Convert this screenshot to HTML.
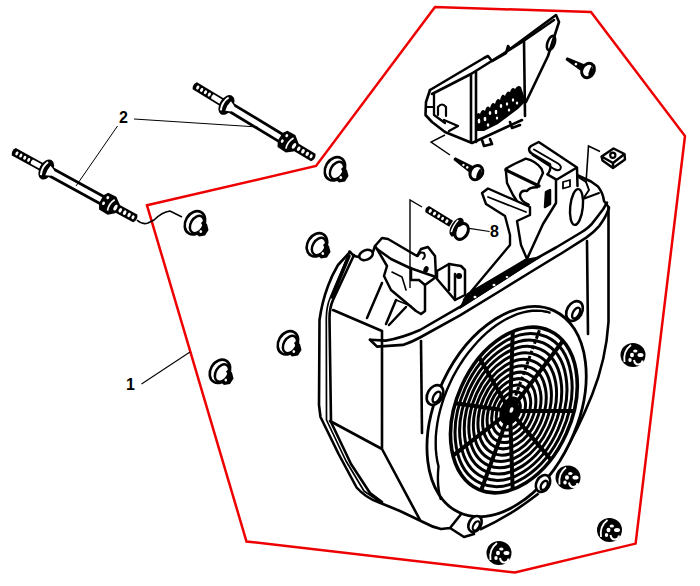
<!DOCTYPE html>
<html><head><meta charset="utf-8">
<style>
html,body{margin:0;padding:0;background:#fff;}
body{width:700px;height:586px;overflow:hidden;}
svg{display:block;}
.lbl{font-family:"Liberation Sans",sans-serif;font-size:16px;font-weight:bold;fill:#000;}
</style></head><body>
<svg width="700" height="586" viewBox="0 0 700 586">
<defs>
<g id="stud">
  <!-- local axis along +x, length ~141 -->
  <path d="M1.5,-4.2 L33,-4.2 L33,4.2 L1.5,4.2 Q-1.5,0 1.5,-4.2Z" fill="#000"/>
  <ellipse cx="5" cy="0" rx="1.4" ry="2.1" fill="#fff"/>
  <ellipse cx="9.5" cy="0" rx="1.4" ry="2.1" fill="#fff"/>
  <ellipse cx="14" cy="0" rx="1.4" ry="2.1" fill="#fff"/>
  <ellipse cx="18.5" cy="0" rx="1.4" ry="2.1" fill="#fff"/>
  <path d="M22,-2.4 L32,-2.4 L32,2.4 L22,2.4 Q20.5,0 22,-2.4Z" fill="#fff"/>
  <path d="M42,-4 L106,-4 M42,4 L106,4" stroke="#000" stroke-width="2.8"/>
  <ellipse cx="38.5" cy="0" rx="6.8" ry="10.8" fill="#000"/>
  <path d="M36.5,-7.5 Q33,0 36.5,7.5" stroke="#fff" stroke-width="2" fill="none"/>
  <path d="M40.5,-5.5 Q39,0 40.5,5.5 L46,3 L46,-3Z" fill="#fff"/>
<path d="M104,-9.5 L113,-10 L120,-4.5 L120,5 L114,10 L104,9.5 L101,4 L101,-5Z" fill="#000"/>
  <ellipse cx="106" cy="-5" rx="1.4" ry="1.6" fill="#fff"/>
  <ellipse cx="105" cy="2" rx="1.4" ry="1.8" fill="#fff"/>
  <path d="M113,-6.5 Q109.5,0 112,6.5" stroke="#fff" stroke-width="1.7" fill="none"/>
  <path d="M119,-4.4 L140,-4.4 Q143.5,0 140,4.4 L119,4.4Z" fill="#000"/>
  <ellipse cx="117.5" cy="0" rx="1.6" ry="3.2" fill="#fff"/>
  <ellipse cx="123" cy="0" rx="1.6" ry="2.4" fill="#fff"/>
  <ellipse cx="128" cy="0" rx="1.6" ry="2.4" fill="#fff"/>
  <ellipse cx="133" cy="0" rx="1.5" ry="2.3" fill="#fff"/>
  <ellipse cx="137.5" cy="0" rx="1.4" ry="2" fill="#fff"/>
</g>
<g id="nutA">
  <!-- flange nut, centred 0,0 -->
  <ellipse cx="-1.5" cy="-0.5" rx="9.5" ry="12.3" transform="rotate(30)" fill="#fff" stroke="#000" stroke-width="2.6"/>
  <path d="M4,-5 L11,0 L12.5,6 L9,11.5 L3,12.5 L-1,9Z" fill="#000"/>
  <ellipse cx="1" cy="0.5" rx="6.3" ry="9.3" transform="rotate(30 1 0.5)" fill="#fff" stroke="#000" stroke-width="2.5"/>
  <ellipse cx="1.8" cy="1.2" rx="3.8" ry="5.5" transform="rotate(30 1.8 1.2)" fill="#fff"/>
  <path d="M5,-1 Q8,3 6,8 L9,9 Q11,3 7,-3Z" fill="#000"/>
  <ellipse cx="4.8" cy="7.5" rx="1.3" ry="1.5" fill="#fff"/>
</g>
<g id="nutB">
  <ellipse cx="0" cy="0" rx="12.5" ry="12" fill="#000"/>
  <path d="M-8.5,7 Q-10,-4 -2,-10" stroke="#fff" stroke-width="1.8" fill="none"/>
  <ellipse cx="2.3" cy="-4" rx="2.2" ry="1.6" fill="#fff"/>
  <ellipse cx="-1" cy="0" rx="2" ry="2.2" fill="#fff"/>
  <ellipse cx="7.5" cy="0" rx="3" ry="2" fill="#fff"/>
  <ellipse cx="-3" cy="5" rx="1.7" ry="1.9" fill="#fff"/>
  <path d="M1,5 Q2,10 6,9.5 Q9.5,8.5 9.5,5.5" stroke="#fff" stroke-width="2" fill="none"/>
</g>
</defs>

<!-- red boundary -->
<path d="M147,205.3 L316,166 L435,7 L591,12 L685,136 L635.6,543.6 L515,572.5 L246.5,541.5 Z" fill="none" stroke="#ee0000" stroke-width="2.5" stroke-linejoin="miter"/>

<!-- studs -->
<use href="#stud" transform="translate(12.5,151) rotate(28.8)"/>
<use href="#stud" transform="translate(193.5,85) rotate(31.2)"/>

<!-- label 2 -->
<text class="lbl" x="119" y="122.8">2</text>
<path d="M117.5,126 L76,186 M134,119 L257.5,127" stroke="#000" stroke-width="1" fill="none"/>
<!-- leader from lower stud end -->
<path d="M137,220 Q142,225 148,223 L154,220 Q162,212 170,211 L182,217" stroke="#000" stroke-width="1.6" fill="none"/>

<!-- label 1 -->
<text class="lbl" x="126" y="389.9">1</text>
<path d="M141.5,384 L190,352" stroke="#000" stroke-width="1.1" fill="none"/>


<!-- ===== top bracket ===== -->
<g fill="none" stroke="#000" stroke-width="2.6" stroke-linejoin="round" stroke-linecap="round">
  <path d="M430,90 L484,58 L488,56 L492,61 L506,53 L508,46 L510,49 L556,15 L559,22 L548,56 L526,102"/>
  <path d="M432,94 L471,74 L522,42 L554,20"/>
  <path d="M471,74 L471,142 M476,72 L476,142"/>
  <path d="M524,41 L525,116"/>
  <path d="M430,90 L426,102 L425.5,115 L432,122 L445,132 L472,143 L522,120"/>
  <ellipse cx="551" cy="43" rx="3.5" ry="7.5" transform="rotate(20 551 43)"/>
  <path d="M434,94 L434,115 L445,123" stroke-width="2.3"/><path d="M438,115 L438,107 Q442,102 446,107 L446,116" stroke-width="2.2"/><path d="M427,107 L434,107" stroke-width="2"/><path d="M444,120 L458,126 L449,131" stroke-width="2.3"/>
  <path d="M482,140 L484,146 L492,144 L490,139 M510,122 L512,128 L520,125"/>
</g>
<g fill="#000">
  <path d="M476,116 Q478,111 480,114 Q482,108 485,111 Q487,104 490,108 Q492,101 495,104 Q497,97 500,100 Q502,92 505,96 Q507,90 510,92 Q512,86 515,89 Q518,84 521,87 L524,96 L525,102 L518,109 L498,124 L484,131 L476,131Z"/>
</g>
<g fill="#fff">
  <ellipse cx="479" cy="121" rx="1.3" ry="2.6"/><ellipse cx="485" cy="119" rx="1.4" ry="2.2"/>
  <ellipse cx="490" cy="113" rx="1.3" ry="2"/><ellipse cx="496" cy="112" rx="1.3" ry="2.2"/>
  <ellipse cx="501" cy="106" rx="1.3" ry="2"/><ellipse cx="507" cy="104" rx="1.2" ry="1.8"/>
  <ellipse cx="513" cy="100" rx="1.2" ry="1.8"/><ellipse cx="517" cy="103" rx="1.2" ry="1.6"/>
  <ellipse cx="488" cy="125" rx="1.3" ry="1.8"/><ellipse cx="497" cy="118" rx="1.2" ry="1.6"/>
  <ellipse cx="509" cy="110" rx="1.2" ry="1.6"/>
</g>
<!-- bracket leader + screw -->
<path d="M445,135 L431,142 L450,155" fill="none" stroke="#000" stroke-width="1.4"/>
<g transform="translate(454.4,158.7) rotate(32.3)">
  <path d="M0,-1.6 Q-1,0 0,1.6 L20,3.8 L20,-3.8Z" fill="#000"/>
  <circle cx="11" cy="0.5" r="1.2" fill="#fff"/><circle cx="15.5" cy="0.5" r="1.3" fill="#fff"/>
  <ellipse cx="26" cy="0" rx="6" ry="7.5" fill="#fff" stroke="#000" stroke-width="3"/>
  <path d="M27,-6 Q33,-2 30,6 Q26,3 27,-6Z" fill="#000"/>
</g>
<!-- top right screw -->
<g transform="translate(566.4,58.7) rotate(28.6)">
  <path d="M0,-1.6 Q-1,0 0,1.6 L19,3.8 L19,-3.8Z" fill="#000"/>
  <circle cx="11" cy="0.3" r="1.3" fill="#fff"/>
  <ellipse cx="24.6" cy="0" rx="6" ry="7.5" fill="#fff" stroke="#000" stroke-width="3"/>
  <path d="M25.6,-6 Q32,-2 29,6 Q25,3 25.6,-6Z" fill="#000"/>
</g>
<!-- clip nut -->
<g fill="none" stroke="#000" stroke-width="2.4" stroke-linejoin="round">
  <path d="M601.6,156.5 L613.5,148.5 L624.5,154 L613,163 Z" fill="#fff"/>
  <path d="M601.6,156.5 L602.5,160.5 L613,168 L625,159.5 L624.5,154 M613,163 L613,168"/>
  <circle cx="612.8" cy="155.3" r="2.6" stroke-width="2.2"/>
</g>
<path d="M586,183 L588.5,146 L600,151.5" fill="none" stroke="#000" stroke-width="1.6"/>

<!-- bolt 8 -->

<g transform="translate(426.4,208.6) rotate(31.6)">
  <path d="M1,-3.6 L29,-3.6 L29,3.6 L1,3.6 Q-2,0 1,-3.6Z" fill="#000"/>
  <ellipse cx="4.5" cy="0" rx="1.5" ry="2" fill="#fff"/><ellipse cx="9.5" cy="0" rx="1.5" ry="2" fill="#fff"/>
  <ellipse cx="14.5" cy="0" rx="1.4" ry="1.9" fill="#fff"/><ellipse cx="19" cy="0" rx="1.3" ry="1.8" fill="#fff"/>
  <ellipse cx="24" cy="0" rx="1.5" ry="2" fill="#fff"/>
  <ellipse cx="35.5" cy="0" rx="5.5" ry="10.5" fill="#000"/>
  <path d="M33,-7 Q31.5,0 33.5,7" stroke="#fff" stroke-width="1.6" fill="none"/>
  <ellipse cx="42" cy="1" rx="6" ry="8.5" fill="#fff" stroke="#000" stroke-width="3"/>
  <ellipse cx="38" cy="0" rx="1.2" ry="2" fill="#fff"/>
</g>
<path d="M469,228.4 L489.6,231.5" stroke="#000" stroke-width="1.1" fill="none"/>
<text class="lbl" x="490" y="237">8</text>

<!-- ===== housing ===== -->
<g fill="none" stroke="#000" stroke-width="2.6" stroke-linejoin="round" stroke-linecap="round">
  <!-- left panel outer -->
  <path d="M350,252 L338,265 Q332,275 328,286 Q322,302 319.5,320 L319,405 L320.5,417 L338.6,454 L356.6,487.5 Q366,498 378,502 L400,511 L423,522 Q432,527 441,529 L450,528 L464,537 L474,534 M450,528 L462,513 L474,515"/>
  <!-- left panel inner rim -->
  <path d="M354,255 L333,300 Q329.5,308 329.5,318 L331,422 L351,464 L370,493 L382,502"/>
  <path d="M349,256 L332,297" stroke-width="3.4"/><path d="M347,258 L330.5,297 Q326.5,306 326.3,318 L326.5,420 L346,461 L364,491 L380,502" stroke-width="1.7"/>
  
  <!-- front-left face -->
  <path d="M330,421 L382,449 L382,331 M382,449 L420,520 M333,310 L382,331"/>
  
  <!-- band -->
  <path d="M370,339.7 L385.7,340.6 Q402,338 420,330 L460,306.8 L500,282 L530,262 L556,247.5 L581,232.5 Q590,227 594.3,220.7 Q601,212 603.3,209 L607,202.7"/>
  <path d="M370,339.7 L377,346.6 L403,344.9 Q412,342 420,337.5 L460,315.4 L500,291 L534,270 L562,253 L586.6,237.4 Q594,232 599.4,225.8 Q605,218 607,213 L609,208"/>
  <!-- right edge -->
  <path d="M608.5,207 L608.5,322 Q606,360 592,395 Q578,430 560,460 L551,470"/>
  <path d="M587,241 L588,334"/>
  <!-- left face vertical -->
  <path d="M421,341 L422,433"/>
  <path d="M385,400 L385,449" stroke-width="0"/>
</g>



<!-- ===== upper housing structures ===== -->
<g fill="#fff" stroke="#000" stroke-width="2.5" stroke-linejoin="round" stroke-linecap="round">
  <!-- housing top right corner -->
  <path d="M578,175.5 L591,181.5 L598,186.6 Q603,193 604,201 L608.5,207" fill="none"/>
  <ellipse cx="576.5" cy="207" rx="6.3" ry="18" transform="rotate(6 576.5 207)" fill="none" stroke-width="2.4"/>
  <path d="M579,177.5 L586,182 L589,190 L583,199 L599,193" fill="none" stroke-width="2"/>
  <!-- fork block -->
  <path d="M531,153 Q527,149 531,146 L538.7,142 L577,167.5 L556,180 L556,203 L543,224 L527,259 M577,167.5 L577.5,186" fill="none" stroke-width="2.5"/>
  <path d="M531,153 L550,164.4 Q551.5,170 547.3,174.4 L556,179.4" fill="none" stroke-width="2.4"/>
  <path d="M534,149.5 L558,163.5 Q562.5,166.5 560,169.5 Q558,171 554,169 L532.5,155" fill="none" stroke-width="2"/>
  <path d="M563,182 L570,180 L570,186.5 L563,188.5Z" stroke-width="1.8"/>
  <!-- front hook -->
  <path d="M505.7,168.7 L514.3,164 L525.8,158.6 Q536,161 541.5,168.7 L543,173 L539,181.5 L537.2,187.3 Q530,187 527,191 Q521,190 520,195 Q520,201 528.7,204.5 L522,209 L513,195 L507,183 Z" stroke-width="2.4"/>
  <path d="M506,170 L539,186" stroke-width="3.2"/>
  <path d="M546,192 L550,190 L550,204 L545,207Z" fill="#000"/>
  <!-- long L slab -->
  <path d="M482,193 L488,188.5 L530,207 L530,215 L517,221 L521,245 L527,259 L468,294 L464,300 L510,245 L510,235 L505,216 L486,204 Z" stroke-width="2.4"/>
  <path d="M488,197 L526,212" fill="none" stroke-width="1.8"/>

  <path d="M464,300 L468,294 L529,259 L540,257 L500,282 L460,308 Z" fill="#000" stroke-width="1.5"/><ellipse cx="475" cy="297" rx="1.5" ry="1.2" fill="#fff" stroke="none"/><ellipse cx="494" cy="285" rx="1.5" ry="1.2" fill="#fff" stroke="none"/><ellipse cx="507" cy="277" rx="1.3" ry="1.1" fill="#fff" stroke="none"/>
  <!-- left bracket strap -->
  <path d="M375,246 L382,238 L388,239 L417,256 L421,249 L428,247 L435,256 L436,277 L425,285 L425,311 L421,314 L416,311 L403,300 L391,290 L384,276 L387,266 L377,249Z"/>
  <path d="M377,249 L391,259 L410,268 L436,277" fill="none"/>
  <path d="M418,256 Q420,251 424,253 Q426,257 423,259" fill="none" stroke-width="2"/><ellipse cx="426" cy="269.5" rx="2" ry="3" transform="rotate(20 426 269.5)" fill="#000" stroke-width="1"/>
  <path d="M411,268 L411,280 L419,280 L425,285" fill="none"/>
  <path d="M392,272 L402,277 L406,290" fill="none" stroke-width="1.6"/>
  <path d="M396,300 L411,306" fill="none" stroke-width="1.6"/>
  <!-- middle box -->
  <path d="M437,271 L449,264 L461,266 L465,270 L465,295 L455,300 L437,279Z"/>
  <path d="M449,264 L449,290 M455,274 L455,300" fill="none"/>
  <circle cx="459" cy="276" r="1.8" fill="#000"/>
  <path d="M367,318 L382,283 M386,324 L396,300 M389,325 L406,307" fill="none"/>
  <ellipse cx="366" cy="255" rx="7" ry="4.8" transform="rotate(-22 366 255)" fill="none"/><path d="M349.5,251.5 L354,256 L359,257 M373,252 L375,246" fill="none"/>
</g>

<!-- ===== fan plate ===== -->
<ellipse cx="506.6" cy="411.6" rx="70.4" ry="111.5" transform="rotate(25.4 506.6 411.6)" fill="#fff" stroke="#000" stroke-width="2.8"/>
<path d="M441,500 Q436.5,486 438.5,466.4 L437.2,460.9 L436.4,455.2 L435.8,449.2 L435.7,443.0 L435.8,436.7 L436.4,430.2 L437.3,423.6 L438.5,416.9 L440.1,410.2 L442.1,403.4 L444.3,396.7 L446.9,390.0 L449.8,383.4 L452.9,376.9 L456.4,370.6 L460.1,364.5 L464.0,358.5 L468.2,352.8 L472.6,347.4 L477.1,342.2 L481.8,337.4 L486.6,332.9 L491.6,328.8 L496.6,325.1 L501.7,321.7 L506.8,318.8 L512.0,316.3 L517.1,314.2 L522.2,312.6 L527.2,311.5 L532.1,310.8 L537.0,310.6 L541.7,310.9 L546.2,311.7 L550.6,312.9" fill="none" stroke="#000" stroke-width="2.4"/>
<!--FAN-->
<g fill="none" stroke="#000">
<ellipse cx="510.3" cy="410.9" rx="4.4" ry="6.7" transform="rotate(24 510.3 410.9)" stroke-width="3.0"/>
<ellipse cx="510.6" cy="410.8" rx="8.8" ry="13.4" transform="rotate(24 510.6 410.8)" stroke-width="3.0"/>
<ellipse cx="510.9" cy="410.8" rx="13.3" ry="20.1" transform="rotate(24 510.9 410.8)" stroke-width="3.0"/>
<ellipse cx="511.2" cy="410.7" rx="17.7" ry="26.8" transform="rotate(24 511.2 410.7)" stroke-width="3.0"/>
<ellipse cx="511.5" cy="410.6" rx="22.1" ry="33.5" transform="rotate(24 511.5 410.6)" stroke-width="3.0"/>
<ellipse cx="511.8" cy="410.5" rx="26.5" ry="40.2" transform="rotate(24 511.8 410.5)" stroke-width="3.0"/>
<ellipse cx="512.1" cy="410.5" rx="31.0" ry="46.8" transform="rotate(24 512.1 410.5)" stroke-width="3.0"/>
<ellipse cx="512.4" cy="410.4" rx="35.4" ry="53.5" transform="rotate(24 512.4 410.4)" stroke-width="3.0"/>
<ellipse cx="512.7" cy="410.3" rx="39.8" ry="60.2" transform="rotate(24 512.7 410.3)" stroke-width="3.0"/>
<ellipse cx="513.0" cy="410.2" rx="44.2" ry="66.9" transform="rotate(24 513.0 410.2)" stroke-width="3.0"/>
<ellipse cx="513.3" cy="410.2" rx="48.7" ry="73.6" transform="rotate(24 513.3 410.2)" stroke-width="3.0"/>
<ellipse cx="513.6" cy="410.1" rx="53.1" ry="80.3" transform="rotate(24 513.6 410.1)" stroke-width="3.0"/>
<ellipse cx="513.9" cy="410.0" rx="57.5" ry="87.0" transform="rotate(24 513.9 410.0)" stroke-width="3.6"/>
<path d="M510,411 L455.3,403.3" stroke-width="4"/>
<path d="M510,411 L479.2,357.6" stroke-width="4"/>
<path d="M510,411 L512.8,331.5" stroke-width="4"/>
<path d="M510,411 L563.0,340.7" stroke-width="4"/>
<path d="M510,411 L574.0,411.0" stroke-width="4"/>
<path d="M510,411 L550.8,459.6" stroke-width="4"/>
<path d="M510,411 L512.7,489.4" stroke-width="4"/>
<path d="M510,411 L481.1,490.5" stroke-width="4"/>
<path d="M510,411 L453.0,455.6" stroke-width="4"/>
</g>
<path d="M510,411 L540.3,327.8" stroke="#000" stroke-width="3" stroke-dasharray="3.5 2"/>
<ellipse cx="510" cy="411" rx="9" ry="12" transform="rotate(20 510 411)" fill="#000"/>
<ellipse cx="511.5" cy="410" rx="1.8" ry="2.8" fill="#fff" transform="rotate(20 511.5 410)"/>
<!--/FAN-->
<!-- bosses -->
<g fill="#fff" stroke="#000" stroke-width="2.6">
  <g transform="translate(574.5,311) rotate(30)"><ellipse rx="7.5" ry="10.5"/><ellipse cx="2.5" cy="1" rx="3.2" ry="6" stroke-width="2.4"/></g>
  <g transform="translate(435,395) rotate(30)"><ellipse rx="7.5" ry="10.5"/><ellipse cx="2.5" cy="1" rx="3.2" ry="6" stroke-width="2.4"/></g>
  <g transform="translate(543,483.5) rotate(30)"><ellipse rx="6.5" ry="9"/><ellipse cx="2" cy="1" rx="3" ry="5" stroke-width="2.4"/></g>
  <g transform="translate(475,524) rotate(30)"><ellipse rx="6" ry="8.5"/><ellipse cx="2" cy="1" rx="2.8" ry="5" stroke-width="2.2"/></g>
</g>
<path d="M480,529.5 Q510,516 538.6,493.6" fill="none" stroke="#000" stroke-width="2.6"/>


<path d="M410,288 L410,200 L422,207" fill="none" stroke="#000" stroke-width="1.4"/>
<!-- nuts -->
<use href="#nutA" transform="translate(336,170)"/>
<use href="#nutA" transform="translate(196,224)"/>
<use href="#nutA" transform="translate(318,246)"/>
<use href="#nutA" transform="translate(289,344)"/>
<use href="#nutA" transform="translate(221,372.5)"/>
<use href="#nutB" transform="translate(633,355)"/>
<use href="#nutB" transform="translate(568,477.5)"/>
<use href="#nutB" transform="translate(609.5,530)"/>
<use href="#nutB" transform="translate(499,553)"/>

</svg>
</body></html>
